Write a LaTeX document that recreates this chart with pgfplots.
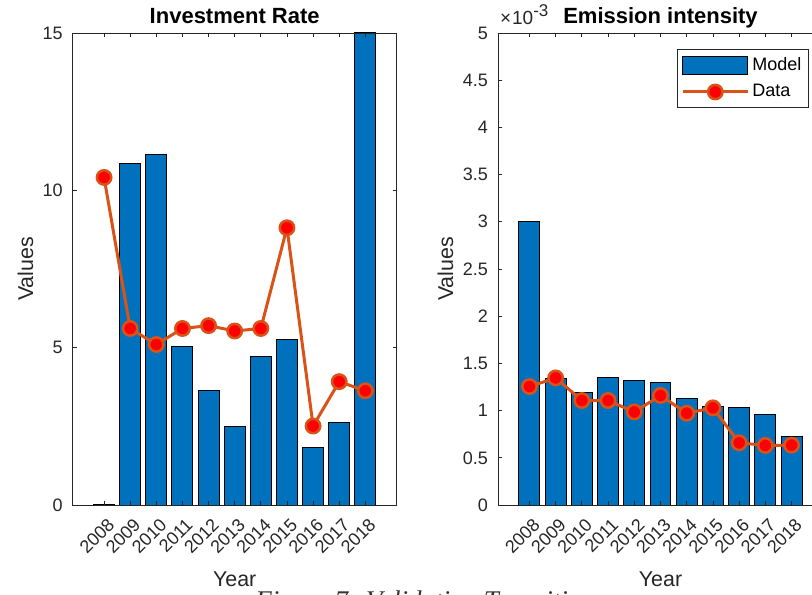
\documentclass[border=0pt]{standalone}
\usepackage{fontspec}
\setmainfont{Liberation Sans}
\newfontfamily\capfont{Liberation Serif}
\usepackage{pgfplots}
\pgfplotsset{compat=1.18}

\definecolor{mblue}{RGB}{0,114,189}
\definecolor{morange}{RGB}{217,83,25}
\definecolor{axgray}{RGB}{38,38,38}

% model (bars) and observed data (line) for both panels
\pgfplotstableread{
idx invModel invData emiModel emiData
0   0.02     10.41   3.00     1.255
1   10.85    5.61    1.34     1.346
2   11.13    5.10    1.19     1.107
3   5.03     5.61    1.35     1.107
4   3.63     5.70    1.314    0.986
5   2.51     5.53    1.297    1.160
6   4.73     5.61    1.131    0.972
7   5.27     8.81    1.04     1.029
8   1.84     2.51    1.033    0.659
9   2.62     3.92    0.959    0.631
10  15.00    3.63    0.729    0.634
}\vals

\pgfplotsset{
  mpanel/.style={
    scale only axis, height=236pt,
    xmin=-1.2, xmax=11.2, ymin=0,
    xtick={0,1,2,3,4,5,6,7,8,9,10},
    xticklabels={2008,2009,2010,2011,2012,2013,2014,2015,2016,2017,2018},
    axis on top, clip mode=individual,
    axis line style={axgray, line width=0.4pt},
    every tick/.style={axgray, line width=0.4pt},
    major tick length=2pt,
    tick label style={font=\fontsize{9}{10}\selectfont, text=axgray},
    /pgf/number format/assume math mode=true,
    xticklabel style={xshift=6pt, yshift=-6pt, rotate=45, anchor=east},
    yticklabel style={xshift=-1.5pt},
    label style={font=\fontsize{10.7}{12}\selectfont, text=axgray},
    every axis title shift=0pt,
    title style={font=\bfseries\fontsize{11}{13}\selectfont, text=black,
      at={(axis description cs:0.5,1)}, anchor=base, yshift=4.5pt},
    xlabel style={at={(axis description cs:0.5,0)}, anchor=base, yshift=-40.5pt},
    xlabel={Year}, ylabel={Values},
  },
  modelbar/.style={ybar, bar shift=0pt, bar width=0.8, fill=mblue, draw=black,
    line width=0.5pt,
    legend image code/.code={\draw[fill=mblue, draw=black, line width=0.5pt]
      (0pt,-4.4pt) rectangle (32.5pt,4.4pt);}},
  dataline/.style={draw=morange, line width=1.5pt, mark=*, mark size=3.6pt,
    mark options={fill=red, draw=morange, line width=1.25pt},
    legend image code/.code={\draw[mark repeat=2, mark phase=2]
      plot coordinates {(0pt,0pt) (16.25pt,0pt) (32.5pt,0pt)};}},
}

\begin{document}
\begin{tikzpicture}
% left panel
\begin{axis}[mpanel, at={(36.35pt,44.5pt)}, anchor=south west, width=162pt,
  ymax=15, ytick={0,5,10,15},
  title={Investment Rate},
  ylabel style={at={(axis description cs:-0.1225,0.5)}, anchor=base}]
  \addplot[modelbar] table[x=idx, y=invModel] {\vals};
  \addplot[dataline] table[x=idx, y=invData] {\vals};
\end{axis}

% right panel (values in units of 1e-3)
\begin{axis}[mpanel, at={(249pt,44.5pt)}, anchor=south west, width=162.5pt,
  ymax=5, ytick={0,0.5,1,1.5,2,2.5,3,3.5,4,4.5,5},
  title={Emission intensity},
  ylabel style={at={(axis description cs:-0.138,0.5)}, anchor=base},
  legend style={at={(rel axis cs:0.956,0.966)}, anchor=north east,
    draw=axgray, line width=0.4pt, font=\fontsize{9}{10}\selectfont,
    inner xsep=2pt, inner ysep=2.5pt, row sep=2.4pt,
    nodes={inner sep=1.5pt}},
  legend cell align=left]
  \addplot[modelbar] table[x=idx, y=emiModel] {\vals};
  \addlegendentry{Model}
  \addplot[dataline] table[x=idx, y=emiData] {\vals};
  \addlegendentry{Data}
  \node[anchor=base west, text=axgray, inner sep=0pt]
    at (axis description cs:0.005,1.017)
    {\fontsize{9.5}{10}\selectfont×\kern0.5pt10\raisebox{0.8ex}{\fontsize{8.5}{9}\selectfont -3}};
\end{axis}

% figure caption below the panels, cut by the page edge
\node[anchor=base west, font=\capfont\itshape\fontsize{13.5}{15}\selectfont, text=black!80, inner sep=0pt]
  at (127.5pt,-7.6pt) {Figure 7: Validation Transition};

% fixed page frame
\pgfresetboundingbox
\useasboundingbox (0,0) rectangle (406pt,297pt);
\end{tikzpicture}
\end{document}
